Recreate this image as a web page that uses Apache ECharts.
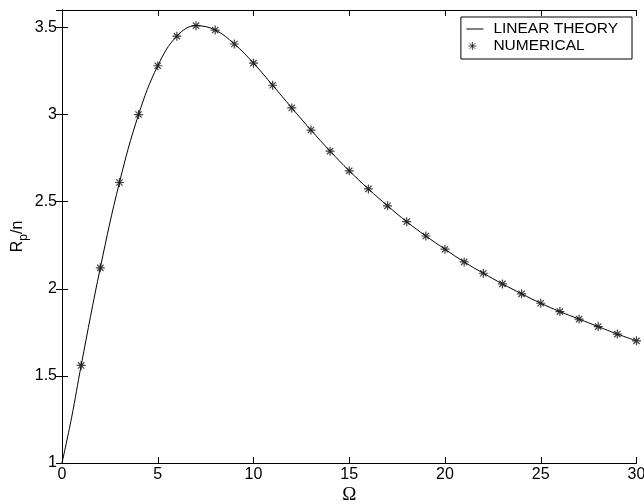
<!DOCTYPE html>
<html>
<head>
<meta charset="utf-8">
<script src="https://cdn.jsdelivr.net/npm/echarts@6/dist/echarts.min.js"></script>
<style>
  html, body { margin: 0; padding: 0; background: #fff; }
  #chart { width: 644px; height: 504px; }
</style>
</head>
<body>
<div id="chart"></div>
<script>
// Omega values (numerical points) and R_p/n
const omega = [1, 2, 3, 4, 5, 6, 7, 8, 9, 10, 11, 12, 13, 14, 15,
  16, 17, 18, 19, 20, 21, 22, 23, 24, 25, 26, 27, 28, 29, 30];
const numerical = [1.56, 2.12, 2.61, 3.0, 3.28, 3.45, 3.51, 3.485, 3.405, 3.295,
  3.168, 3.038, 2.911, 2.79, 2.677, 2.573, 2.476, 2.385, 2.303, 2.227,
  2.154, 2.089, 2.028, 1.971, 1.917, 1.869, 1.826, 1.783, 1.740, 1.701];
// linear theory curve: starts at (0, 1) and runs through the same points
const theoryX = [0, 0.5].concat(omega);
const theoryY = [1, 1.26].concat(numerical);

const FONT = "'Liberation Sans', Arial, sans-serif";
// MATLAB style asterisk marker
const STAR = 'path://M0,5L10,5M5,0L5,10M1.5,1.5L8.5,8.5M8.5,1.5L1.5,8.5';
// legend icons, padded with empty points so they keep their place in the 22x14 box
const LEGEND_LINE = 'path://M0,0L0,0M0,6.5L17,6.5L17,7.5L0,7.5ZM22,14L22,14';
const LEGEND_STAR = 'path://M0,0L0,0M2,7L10,7M6,3L6,11M3.2,4.2L8.8,9.8M8.8,4.2L3.2,9.8M22,14L22,14';

function pairs(xs, ys) {
  let res = [];
  for (let i = 0; i < xs.length; i++) {
    res.push([xs[i], ys[i]]);
  }
  return res;
}

const chart = echarts.init(document.getElementById('chart'), null, { renderer: 'canvas' });

const axisLine = { show: true, lineStyle: { color: '#000', width: 1 } };
const tick = { show: true, inside: true, length: 6, lineStyle: { color: '#000' } };

const option = {
  backgroundColor: '#fff',
  animation: false,
  grid: { left: 62, right: 7.5, top: 10, bottom: 41, outerBoundsMode: 'none' },
  legend: {
    right: 12,
    top: 17,
    orient: 'vertical',
    backgroundColor: '#fff',
    borderColor: '#000',
    borderWidth: 1,
    borderRadius: 0,
    padding: [4, 14, 5, 5],
    itemWidth: 22,
    itemHeight: 14,
    itemGap: 1,
    textStyle: { fontFamily: FONT, fontSize: 15.5, lineHeight: 14, color: '#000' },
    data: [
      { name: 'LINEAR THEORY', icon: LEGEND_LINE, itemStyle: { color: '#000', borderWidth: 0 } },
      { name: 'NUMERICAL', icon: LEGEND_STAR, itemStyle: { color: 'transparent', borderColor: '#111', borderWidth: 1 } }
    ]
  },
  xAxis: [{
    type: 'value',
    position: 'bottom',
    min: 0, max: 30, interval: 5,
    name: 'Ω',
    nameLocation: 'middle',
    nameGap: 23,
    nameMoveOverlap: false,
    nameTextStyle: { fontFamily: "'Liberation Serif', 'DejaVu Serif', serif", fontSize: 19, color: '#000' },
    axisLine: axisLine,
    axisTick: tick,
    axisLabel: { fontFamily: FONT, fontSize: 16, color: '#000', margin: 4 },
    splitLine: { show: false }
  }, {
    type: 'value',
    position: 'top',
    min: 0, max: 30, interval: 5,
    axisLine: axisLine,
    axisTick: tick,
    axisLabel: { show: false },
    splitLine: { show: false }
  }],
  yAxis: [{
    type: 'value',
    position: 'left',
    min: 1, max: 3.6, interval: 0.5,
    name: '{r|R}{s|p}{r|/n}',
    nameLocation: 'middle',
    nameGap: 32,
    nameMoveOverlap: false,
    nameTextStyle: {
      color: '#000',
      rich: {
        r: { fontFamily: FONT, fontSize: 16, color: '#000', lineHeight: 24, verticalAlign: 'middle' },
        s: { fontFamily: FONT, fontSize: 12, color: '#000', lineHeight: 11, verticalAlign: 'bottom' }
      }
    },
    axisLine: axisLine,
    axisTick: tick,
    axisLabel: {
      fontFamily: FONT, fontSize: 16, color: '#000', margin: 5,
      showMaxLabel: false
    },
    splitLine: { show: false }
  }, {
    type: 'value',
    position: 'right',
    min: 1, max: 3.6, interval: 0.5,
    axisLine: axisLine,
    axisTick: tick,
    axisLabel: { show: false },
    splitLine: { show: false }
  }],
  series: [{
    name: 'LINEAR THEORY',
    type: 'line',
    xAxisIndex: 0,
    yAxisIndex: 0,
    smooth: 0.4,
    symbol: 'none',
    lineStyle: { color: '#000', width: 1 },
    itemStyle: { color: '#000' },
    data: pairs(theoryX, theoryY),
    z: 2
  }, {
    name: 'NUMERICAL',
    type: 'scatter',
    xAxisIndex: 0,
    yAxisIndex: 0,
    symbol: STAR,
    symbolSize: 9,
    itemStyle: { color: 'transparent', borderColor: '#111', borderWidth: 1.2 },
    data: pairs(omega, numerical),
    z: 3
  }]
};

chart.setOption(option);
</script>
</body>
</html>
